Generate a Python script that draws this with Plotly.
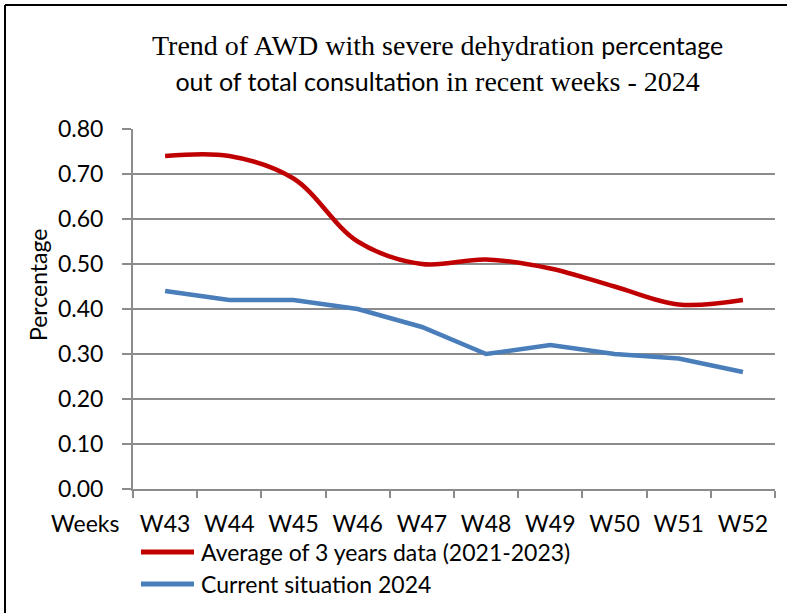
import plotly.graph_objects as go

weeks = ["W43", "W44", "W45", "W46", "W47", "W48", "W49", "W50", "W51", "W52"]
avg_3yr = [0.74, 0.74, 0.69, 0.55, 0.50, 0.51, 0.49, 0.45, 0.41, 0.42]
current_2024 = [0.44, 0.42, 0.42, 0.40, 0.36, 0.30, 0.32, 0.30, 0.29, 0.26]
y_ticks = [0.0, 0.1, 0.2, 0.3, 0.4, 0.5, 0.6, 0.7, 0.8]
series_names = ["Average of 3 years data (2021-2023)", "Current situation 2024"]

RED = "#C00000"
BLUE = "#4A7EBB"
GRID = "#8C8C8C"
SANS = "Lato"
SERIF = "Liberation Serif"

W, H = 787, 613
L, R, T, B = 133, 12, 129, 124
PW, PH = W - L - R, H - T - B


def px(x):
    return (x - L) / PW


def py(y):
    return (H - B - y) / PH


fig = go.Figure()
fig.add_trace(go.Scatter(x=weeks, y=avg_3yr, mode="lines", name=series_names[0],
                         line=dict(color=RED, width=4.5, shape="spline", smoothing=1.0)))
fig.add_trace(go.Scatter(x=weeks, y=current_2024, mode="lines", name=series_names[1],
                         line=dict(color=BLUE, width=4.5)))

title_html = (
    f'<span style="font-family:{SERIF}">Trend of AWD with severe dehydration</span> '
    f'<span style="font-family:{SANS};font-size:25px">percentage</span><br>'
    f'<span style="font-family:{SANS};font-size:25px">out of total consultation</span> '
    f'<span style="font-family:{SERIF}">in recent weeks - 2024</span>'
)

annotations = [
    dict(text=title_html, xref="paper", yref="paper", x=px(437), y=py(28),
         xanchor="center", yanchor="top", showarrow=False, align="center",
         font=dict(family=SERIF, size=28, color="black")),
    dict(text="Percentage", xref="paper", yref="paper", x=px(38), y=py(285),
         xanchor="center", yanchor="middle", showarrow=False, textangle=-90,
         font=dict(family=SANS, size=23, color="black")),
    dict(text="Weeks", xref="paper", yref="paper", x=px(121), y=py(523),
         xanchor="right", yanchor="middle", showarrow=False,
         font=dict(family=SANS, size=23, color="black")),
    dict(text="g", xref="paper", yref="paper", x=px(140), y=py(3.5),
         xanchor="center", yanchor="bottom", showarrow=False,
         font=dict(family=SANS, size=26, color="#2E74B5")),
]

shapes = [
    dict(type="line", xref="paper", yref="paper", x0=px(5), x1=px(5), y0=py(5), y1=py(640),
         line=dict(color="black", width=2)),
    dict(type="line", xref="paper", yref="paper", x0=px(5), x1=px(800), y0=py(5), y1=py(5),
         line=dict(color="black", width=2)),
]

legend_rows = [(552, RED, series_names[0]), (584, BLUE, series_names[1])]
for yy, col, name in legend_rows:
    shapes.append(dict(type="line", xref="paper", yref="paper", x0=px(141), x1=px(194),
                       y0=py(yy), y1=py(yy), line=dict(color=col, width=5)))
    annotations.append(dict(text=name, xref="paper", yref="paper", x=px(199), y=py(yy),
                            xanchor="left", yanchor="middle", showarrow=False,
                            font=dict(family=SANS, size=23, color="black")))

fig.update_layout(
    width=W, height=H,
    margin=dict(l=L, r=R, t=T, b=B, autoexpand=False),
    paper_bgcolor="white", plot_bgcolor="white",
    showlegend=False,
    font=dict(family=SANS, size=23, color="black"),
    annotations=annotations,
    shapes=shapes,
)
fig.update_xaxes(type="category", range=[-0.5, 9.5], tickson="boundaries",
                 ticks="outside", ticklen=7, tickwidth=1.5, tickcolor=GRID,
                 showline=True, linecolor=GRID, linewidth=2, showgrid=False,
                 tickfont=dict(family=SANS, size=23, color="black"),
                 ticklabelstandoff=13, automargin=False)
fig.update_yaxes(range=[0, 0.8], tickvals=y_ticks, tickformat=".2f",
                 ticks="outside", ticklen=9, tickwidth=1.5, tickcolor=GRID,
                 showline=True, linecolor=GRID, linewidth=2,
                 showgrid=True, gridcolor=GRID, gridwidth=2, zeroline=False,
                 tickfont=dict(family=SANS, size=23, color="black"),
                 ticklabelstandoff=14, automargin=False)

fig.write_html("out.html", config={"displayModeBar": False},
               post_script="document.body.style.margin='0';document.body.style.overflow='hidden';")
